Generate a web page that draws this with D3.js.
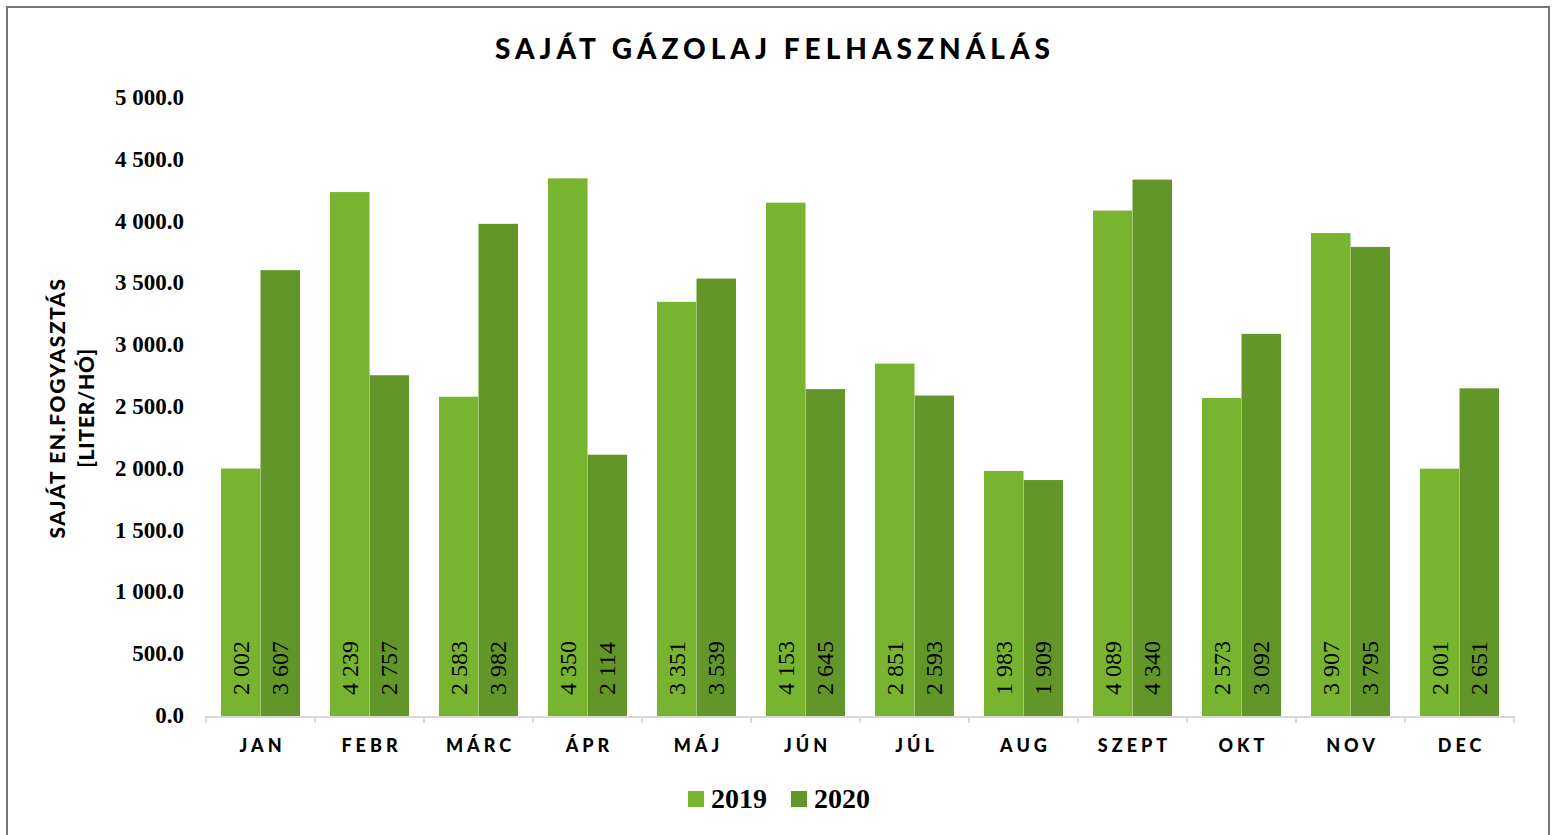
<!DOCTYPE html>
<html>
<head>
<meta charset="utf-8">
<script src="https://d3js.org/d3.v7.min.js"></script>
<style>
  body { margin: 0; background: #fff; }
</style>
</head>
<body>
<div id="chart"></div>
<script>
// data
var months = ["JAN", "FEBR", "MÁRC", "ÁPR", "MÁJ", "JÚN", "JÚL", "AUG", "SZEPT", "OKT", "NOV", "DEC"];
var years = ["2019", "2020"];
var values2019 = [2002, 4239, 2583, 4350, 3351, 4153, 2851, 1983, 4089, 2573, 3907, 2001];
var values2020 = [3607, 2757, 3982, 2114, 3539, 2645, 2593, 1909, 4340, 3092, 3795, 2651];
var yTicks = [0, 500, 1000, 1500, 2000, 2500, 3000, 3500, 4000, 4500, 5000];
var colors = ["#78b42f", "#629628"];

var W = 1559, H = 835;
var svg = d3.select("#chart").append("svg").attr("width", W).attr("height", H);

// outer frame
svg.append("rect").attr("x", 7).attr("y", 7).attr("width", 1542).attr("height", 840)
  .attr("fill", "#fff").attr("stroke", "#777").attr("stroke-width", 2);

var plot = { left: 206, right: 1514, top: 98, bottom: 716 };

var x = d3.scaleBand().domain(months).range([plot.left, plot.right]).paddingInner(0.275).paddingOuter(0.1375);
var xs = d3.scaleBand().domain(years).range([0, x.bandwidth()]);
var y = d3.scaleLinear().domain([0, 5000]).range([plot.bottom, plot.top]);

var serif = "'Liberation Serif', 'DejaVu Serif', serif";
var sans = "Lato, 'DejaVu Sans', sans-serif";
var fmtInt = function (v) { return d3.format(",")(v).replace(/,/g, " "); };
var fmtTick = function (v) { return d3.format(",.1f")(v).replace(/,/g, " "); };

// title
svg.append("text").attr("x", 775).attr("y", 59).attr("text-anchor", "middle")
  .style("font-family", sans).style("font-weight", 900).style("font-size", "28px")
  .style("letter-spacing", "5px").text("SAJÁT GÁZOLAJ FELHASZNÁLÁS");

// y axis labels
svg.append("g").selectAll("text").data(yTicks).enter().append("text")
  .attr("x", 184).attr("y", function (d) { return y(d) + 7; })
  .attr("text-anchor", "end")
  .style("font-family", serif).style("font-weight", 700).style("font-size", "23px")
  .text(fmtTick);

// y axis title
var yt = svg.append("text").attr("transform", "translate(0,408) rotate(-90)")
  .attr("text-anchor", "middle")
  .style("font-family", sans).style("font-weight", 900).style("font-size", "21px");
yt.append("tspan").attr("x", 0).attr("y", 65).style("letter-spacing", "1.6px").text("SAJÁT EN.FOGYASZTÁS");
yt.append("tspan").attr("x", 0).attr("y", 94).style("letter-spacing", "0.8px").text("[LITER/HÓ]");

// bars
var rows = months.map(function (m, i) {
  return { month: m, vals: [{ year: "2019", v: values2019[i] }, { year: "2020", v: values2020[i] }] };
});
var groups = svg.append("g").selectAll("g").data(rows).enter().append("g")
  .attr("transform", function (d) { return "translate(" + x(d.month) + ",0)"; });

groups.selectAll("rect").data(function (d) { return d.vals; }).enter().append("rect")
  .attr("x", function (d) { return xs(d.year); })
  .attr("y", function (d) { return y(d.v); })
  .attr("width", xs.bandwidth())
  .attr("height", function (d) { return y(0) - y(d.v); })
  .attr("fill", function (d, i) { return colors[i]; });

// thin light separator between the two bars
groups.append("line")
  .attr("x1", xs("2020")).attr("x2", xs("2020"))
  .attr("y1", function (d) { return y(Math.min(d.vals[0].v, d.vals[1].v)); })
  .attr("y2", y(0)).attr("stroke", "#a8cc7c").attr("stroke-width", 0.8);

// value labels
groups.selectAll("text.val").data(function (d) { return d.vals; }).enter().append("text")
  .attr("class", "val")
  .attr("transform", function (d) {
    return "translate(" + (xs(d.year) + xs.bandwidth() / 2 + 8) + "," + 695 + ") rotate(-90)";
  })
  .style("font-family", serif).style("font-size", "24px").style("fill", "#000")
  .text(function (d) { return fmtInt(d.v); });

// x axis
var axis = svg.append("g").attr("stroke", "#d9d9d9").attr("stroke-width", 2);
axis.append("line").attr("x1", plot.left).attr("x2", plot.right).attr("y1", plot.bottom + 1).attr("y2", plot.bottom + 1);
d3.range(13).forEach(function (i) {
  var xx = plot.left + i * (plot.right - plot.left) / 12;
  axis.append("line").attr("x1", xx).attr("x2", xx).attr("y1", plot.bottom).attr("y2", plot.bottom + 7);
});

svg.append("g").selectAll("text").data(months).enter().append("text")
  .attr("x", function (d) { return x(d) + x.bandwidth() / 2 + 2; })
  .attr("y", 752).attr("text-anchor", "middle")
  .style("font-family", sans).style("font-weight", 900).style("font-size", "18px")
  .style("letter-spacing", "4px").text(function (d) { return d; });

// legend
var leg = svg.append("g");
var legX = [688, 791];
years.forEach(function (yr, i) {
  leg.append("rect").attr("x", legX[i]).attr("y", 791).attr("width", 16).attr("height", 16).attr("fill", colors[i]);
  leg.append("text").attr("x", legX[i] + 23).attr("y", 808)
    .style("font-family", serif).style("font-weight", 700).style("font-size", "28px").text(yr);
});
</script>
</body>
</html>
